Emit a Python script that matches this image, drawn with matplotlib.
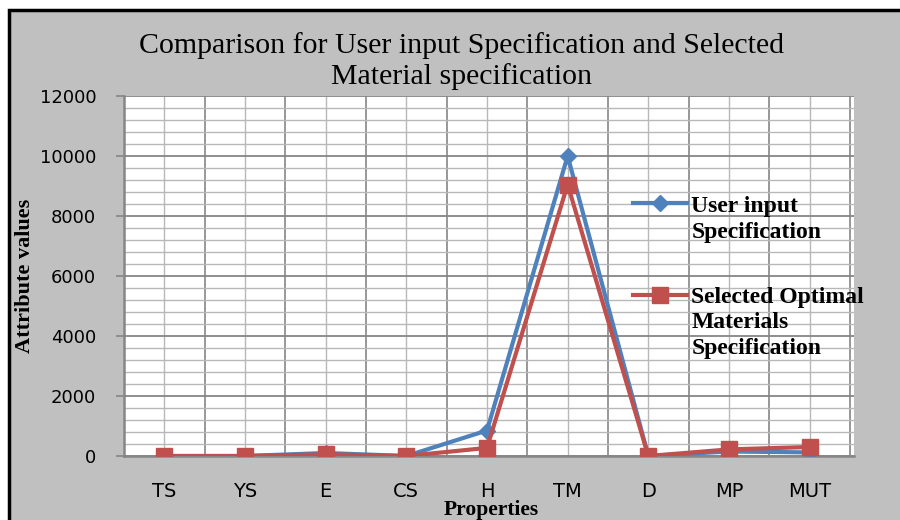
import matplotlib
matplotlib.use("Agg")
import matplotlib.pyplot as plt
from matplotlib.lines import Line2D
from matplotlib.patches import Rectangle
from matplotlib.ticker import MultipleLocator, FixedLocator

# valeurs
properties = ["TS", "YS", "E", "CS", "H", "TM", "D", "MP", "MUT"]
user_input = [0, 0, 100, 0, 850, 10000, 0, 150, 120]
selected   = [0, 0, 55, 0, 270, 9050, 0, 220, 300]

y_ticks = [0, 2000, 4000, 6000, 8000, 10000, 12000]

BLUE  = "#4F81BD"
RED   = "#C0504D"
GREY  = "#C0C0C0"
SERIF = "Liberation Serif"

fig = plt.figure(figsize=(9, 5.2), dpi=100, facecolor="white")

# fond gris avec bordure noire (haut / gauche)
fig.patches.append(Rectangle((9 / 900, -0.02), 1.1, 1.02 - 10 / 520,
                             transform=fig.transFigure, facecolor=GREY,
                             edgecolor="black", linewidth=2.5, zorder=-10))

ax = fig.add_axes([124 / 900, 64 / 520, 730 / 900, 360 / 520])
ax.set_facecolor("white")

x = list(range(len(properties)))
ax.plot(x, user_input, color=BLUE, lw=3, marker="D", ms=8,
        markeredgecolor=BLUE, zorder=3)
ax.plot(x, selected, color=RED, lw=3, marker="s", ms=12,
        markeredgecolor=RED, zorder=4)

ax.set_xlim(-0.5, 8.55)
ax.set_ylim(0, 12000)

ax.xaxis.set_major_locator(FixedLocator(x))
ax.set_xticklabels(properties)
ax.yaxis.set_major_locator(FixedLocator(y_ticks))
ax.yaxis.set_minor_locator(MultipleLocator(400))

# grilles : majeures foncées, mineures claires
ax.set_axisbelow(True)
ax.grid(True, which="major", axis="y", color="#868686", lw=1.3)
ax.grid(True, which="minor", axis="y", color="#B8B8B8", lw=1.0)
ax.xaxis.set_minor_locator(FixedLocator([i + 0.5 for i in x]))
ax.grid(True, which="minor", axis="x", color="#868686", lw=1.2)
ax.grid(True, which="major", axis="x", color="#B8B8B8", lw=1.0)

for s in ["top", "right"]:
    ax.spines[s].set_visible(False)
for s in ["left", "bottom"]:
    ax.spines[s].set_color("#868686")
    ax.spines[s].set_linewidth(1.8)

ax.tick_params(axis="x", which="both", length=0, pad=19, labelsize=14)
ax.tick_params(axis="y", which="major", length=6, width=1.2, color="#868686",
               pad=14, labelsize=13)
ax.tick_params(axis="y", which="minor", length=0)

ax.set_xlabel("Properties", family=SERIF, fontweight="bold", fontsize=15.5)
ax.xaxis.set_label_coords(0.503, -0.122)
ax.set_ylabel("Attribute values", family=SERIF, fontweight="bold", fontsize=16)
ax.yaxis.set_label_coords(-0.122, 0.5)

# va="baseline" -> ligne de base de la dernière ligne
fig.text(0.513, 1 - 84 / 520,
         "Comparison for User input Specification and Selected\nMaterial specification",
         ha="center", va="baseline", family=SERIF, fontsize=21.5, linespacing=1.17)

# légende placée à droite, symbole aligné sur la première ligne
entries = [
    (BLUE, "D", 8, 0.703, 0.606, "User input\nSpecification"),
    (RED, "s", 12, 0.447, 0.283, "Selected Optimal\nMaterials\nSpecification"),
]
for color, marker, ms, yh, yt, label in entries:
    ax.add_line(Line2D([0.697, 0.734, 0.771], [yh] * 3, transform=ax.transAxes,
                       color=color, lw=3, marker=marker, ms=ms, markevery=[1],
                       markeredgecolor=color, clip_on=False, zorder=6))
    ax.text(0.777, yt, label, transform=ax.transAxes, va="baseline", ha="left",
            family=SERIF, fontweight="bold", fontsize=17, linespacing=1.3,
            clip_on=False, zorder=6)

plt.savefig("out.png", dpi=100)
